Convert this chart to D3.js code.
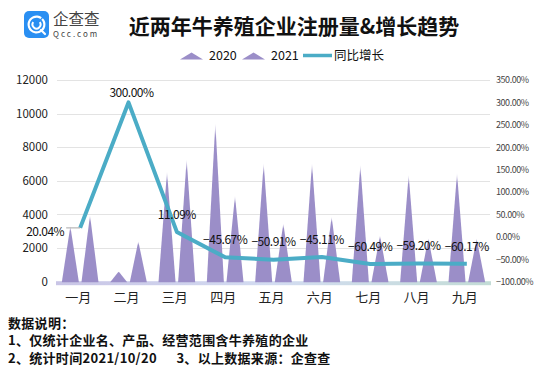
<!DOCTYPE html>
<html>
<head>
<meta charset="utf-8">
<script src="https://d3js.org/d3.v7.min.js"></script>
<style>
  html, body { margin: 0; padding: 0; background: #fff; }
  svg { display: block; font-family: "Microsoft YaHei", "Noto Sans CJK SC", sans-serif; }
</style>
</head>
<body>
<script>
// datos
const months = ['一月', '二月', '三月', '四月', '五月', '六月', '七月', '八月', '九月'];
const seriesNames = ['2020', '2021'];
const reg2020 = [3300, 600, 6550, 9430, 7050, 7050, 6950, 6360, 6460];
const reg2021 = [3960, 2400, 7280, 5120, 3460, 3870, 2750, 2590, 2570];
const growth = [20.04, 300.00, 11.09, -45.67, -50.91, -45.11, -60.49, -59.20, -60.17];
const labelPos = ['left', 'peak', 'top', 'top', 'top', 'top', 'top', 'top', 'top'];
const leftTicks = [0, 2000, 4000, 6000, 8000, 10000, 12000];
const rightTicks = [-100, -50, 0, 50, 100, 150, 200, 250, 300, 350];

const W = 547, H = 371;
const plot = { left: 56, right: 491, top: 80, bottom: 281.7 };
const purple = '#9b8ec8';
const teal = '#4bacc6';

const svg = d3.select('body').append('svg')
  .attr('width', W)
  .attr('height', H);

const defs = svg.append('defs');

// degradado de las puntas
const tipGrad = defs.append('linearGradient')
  .attr('id', 'tipGrad')
  .attr('x1', 0).attr('y1', 0).attr('x2', 0).attr('y2', 1);
tipGrad.append('stop').attr('offset', '0%').attr('stop-color', purple).attr('stop-opacity', 0.15);
tipGrad.append('stop').attr('offset', '9%').attr('stop-color', purple).attr('stop-opacity', 1);
tipGrad.append('stop').attr('offset', '100%').attr('stop-color', purple).attr('stop-opacity', 1);

// banda del eje x
const baseGrad = defs.append('linearGradient')
  .attr('id', 'baseGrad')
  .attr('x1', 0).attr('y1', 0).attr('x2', 1).attr('y2', 0);
baseGrad.append('stop').attr('offset', '0%').attr('stop-color', '#c9c5e6');
baseGrad.append('stop').attr('offset', '50%').attr('stop-color', '#d3dcf1');
baseGrad.append('stop').attr('offset', '100%').attr('stop-color', '#c3dcd6');

// ---- logo ----
const logo = svg.append('g').attr('transform', 'translate(24,11)');
logo.append('rect')
  .attr('width', 25).attr('height', 27).attr('rx', 5)
  .attr('fill', '#2a8ff2');
logo.append('path')
  .attr('d', d3.arc()({ innerRadius: 6.8, outerRadius: 9, startAngle: 0.25 * Math.PI, endAngle: 2.2 * Math.PI }))
  .attr('transform', 'translate(12.5,13.5)')
  .attr('fill', '#fff');
logo.append('path')
  .attr('d', d3.arc()({ innerRadius: 3, outerRadius: 5, startAngle: 0.3 * Math.PI, endAngle: 1.7 * Math.PI }))
  .attr('transform', 'translate(12.5,13.5)')
  .attr('fill', '#fff');
logo.append('line')
  .attr('x1', 17).attr('y1', 19).attr('x2', 21).attr('y2', 23)
  .attr('stroke', '#fff').attr('stroke-width', 2.2).attr('stroke-linecap', 'round');

svg.append('text')
  .attr('x', 53).attr('y', 25)
  .style('font-size', '15.5px')
  .attr('fill', '#444')
  .text('企查查');
svg.append('text')
  .attr('x', 53).attr('y', 37)
  .style('font-size', '8px')
  .style('letter-spacing', '2px')
  .attr('fill', '#444')
  .text('Qcc.com');

// ---- título ----
svg.append('text')
  .attr('x', 294).attr('y', 34)
  .attr('text-anchor', 'middle')
  .style('font-size', '21px')
  .style('font-weight', 'bold')
  .attr('fill', '#111')
  .text('近两年牛养殖企业注册量&增长趋势');

// ---- escalas ----
const x0 = d3.scaleBand()
  .domain(months)
  .range([plot.left, plot.right])
  .paddingInner(0.22)
  .paddingOuter(0.11);

const x1 = d3.scaleBand()
  .domain(seriesNames)
  .range([0, x0.bandwidth()])
  .paddingInner(0.08);

const yLeft = d3.scaleLinear()
  .domain([0, 12000])
  .range([plot.bottom, plot.top]);

const yRight = d3.scaleLinear()
  .domain([-100, 350])
  .range([plot.bottom, plot.top]);

// líneas de cuadrícula
svg.append('g')
  .selectAll('line')
  .data(leftTicks.filter(d => d > 0))
  .enter()
  .append('line')
  .attr('x1', plot.left + 1)
  .attr('x2', plot.right - 1)
  .attr('y1', d => Math.round(yLeft(d)) + 0.5)
  .attr('y2', d => Math.round(yLeft(d)) + 0.5)
  .attr('stroke', '#e3e3e3')
  .attr('stroke-width', 1);

// eje izquierdo
const axisLeft = svg.append('g')
  .attr('transform', 'translate(48,0)')
  .call(d3.axisLeft(yLeft).tickValues(leftTicks).tickSize(0).tickPadding(0).tickFormat(d3.format('d')));
axisLeft.select('.domain').remove();
axisLeft.selectAll('text')
  .style('font-size', '11.5px')
  .style('font-family', '"Microsoft YaHei", "Noto Sans CJK SC", sans-serif')
  .attr('fill', '#222');

// eje derecho
const axisRight = svg.append('g')
  .attr('transform', 'translate(496,0)')
  .call(d3.axisRight(yRight).tickValues(rightTicks).tickSize(0).tickPadding(0)
    .tickFormat(d => d3.format('.2f')(d) + '%'));
axisRight.select('.domain').remove();
axisRight.selectAll('text')
  .style('font-size', '9px')
  .style('letter-spacing', '-0.45px')
  .style('font-family', '"Microsoft YaHei", "Noto Sans CJK SC", sans-serif')
  .attr('fill', '#444');

// banda base
svg.append('rect')
  .attr('x', plot.left)
  .attr('y', plot.bottom - 0.5)
  .attr('width', plot.right - plot.left)
  .attr('height', 4)
  .attr('fill', 'url(#baseGrad)');

// triángulos
const rows = months.map((m, i) => ({ month: m, values: [reg2020[i], reg2021[i]] }));

const triangle = (cx, w, y0, y1) => `M${cx - w / 2},${y0}L${cx},${y1}L${cx + w / 2},${y0}Z`;

const groups = svg.append('g')
  .selectAll('g')
  .data(rows)
  .enter()
  .append('g')
  .attr('transform', d => `translate(${x0(d.month)},0)`);

groups.selectAll('path')
  .data(d => d.values.map((v, j) => ({ key: seriesNames[j], value: v })))
  .enter()
  .append('path')
  .attr('d', d => triangle(x1(d.key) + x1.bandwidth() / 2, x1.bandwidth() - 1, plot.bottom + 0.5, yLeft(d.value)))
  .attr('fill', 'url(#tipGrad)');

// línea de crecimiento
const pts = growth.map((g, i) => ({
  x: x0(months[i]) + x0.bandwidth() / 2,
  y: yRight(g),
  v: g,
  pos: labelPos[i]
}));

const line = d3.line()
  .x(d => d.x)
  .y(d => d.y)
  .curve(d3.curveLinear);

svg.append('path')
  .datum(pts)
  .attr('d', line)
  .attr('fill', 'none')
  .attr('stroke', teal)
  .attr('stroke-width', 4)
  .attr('stroke-linejoin', 'round');

// etiquetas de datos
const fmt = v => d3.format('.2f')(v) + '%';
const labels = svg.append('g')
  .style('font-size', '12px')
  .style('letter-spacing', '-0.5px')
  .attr('fill', '#111');

pts.forEach(p => {
  if (p.pos === 'left') {
    svg.append('line')
      .attr('x1', p.x - 14).attr('x2', p.x)
      .attr('y1', p.y).attr('y2', p.y)
      .attr('stroke', '#a6a6a6').attr('stroke-width', 1);
    labels.append('text')
      .attr('x', p.x - 16)
      .attr('y', p.y + 3.5)
      .attr('dy', '0.35em')
      .attr('text-anchor', 'end')
      .text(fmt(p.v));
  } else {
    labels.append('text')
      .attr('x', p.x + (p.pos === 'peak' ? 3 : 0))
      .attr('y', p.y - (p.pos === 'peak' ? 9.5 : 17.5))
      .attr('dy', '0.35em')
      .attr('text-anchor', 'middle')
      .text(fmt(p.v));
  }
});

// etiquetas de meses
svg.append('g')
  .selectAll('text')
  .data(months)
  .enter()
  .append('text')
  .attr('x', d => x0(d) + x0.bandwidth() / 2 - 2)
  .attr('y', 297)
  .attr('dy', '0.35em')
  .attr('text-anchor', 'middle')
  .style('font-size', '13px')
  .attr('fill', '#222')
  .text(d => d);

// leyenda
const legend = svg.append('g').style('font-size', '12.5px').attr('fill', '#111');
const legendItems = [
  { type: 'tri', label: seriesNames[0], x: 180, tx: 209 },
  { type: 'tri', label: seriesNames[1], x: 242, tx: 271 },
  { type: 'line', label: '同比增长', x: 303, tx: 334 }
];
legendItems.forEach(it => {
  if (it.type === 'tri') {
    legend.append('path')
      .attr('d', triangle(it.x + 11.5, 23, 59.5, 52.5))
      .attr('fill', purple);
  } else {
    legend.append('line')
      .attr('x1', it.x).attr('x2', it.x + 29)
      .attr('y1', 55.5).attr('y2', 55.5)
      .attr('stroke', teal).attr('stroke-width', 3.5);
  }
  legend.append('text')
    .attr('x', it.tx)
    .attr('y', 56)
    .attr('dy', '0.35em')
    .text(it.label);
});

// notas
const notes = [
  '数据说明：',
  '1、仅统计企业名、产品、经营范围含牛养殖的企业',
  '2、统计时间2021/10/20      3、以上数据来源：企查查'
];
svg.append('g')
  .selectAll('text')
  .data(notes)
  .enter()
  .append('text')
  .attr('x', 8)
  .attr('y', (d, i) => 323 + i * 17.5)
  .attr('dy', '0.35em')
  .style('font-size', '13px')
  .style('font-weight', 'bold')
  .style('letter-spacing', '0.3px')
  .style('white-space', 'pre')
  .attr('fill', '#111')
  .text(d => d);
</script>
</body>
</html>
